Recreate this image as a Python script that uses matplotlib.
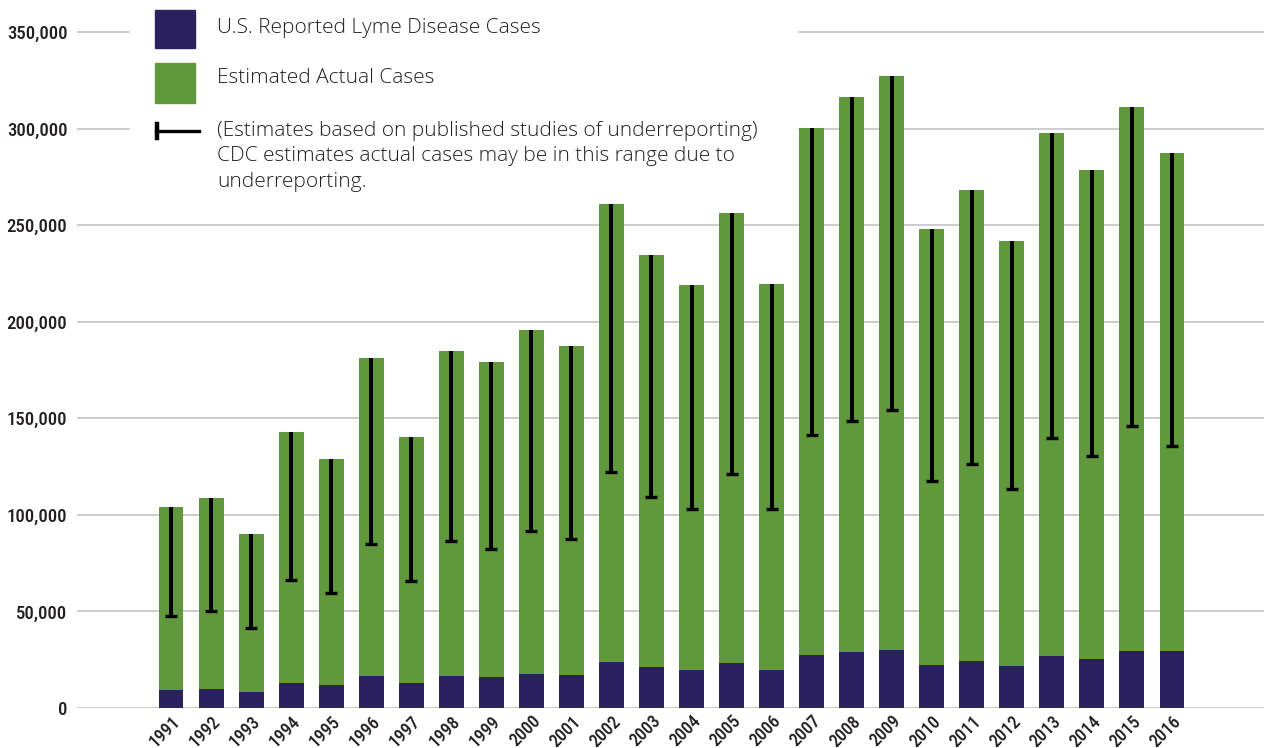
import matplotlib
matplotlib.use("Agg")
import matplotlib.pyplot as plt
from matplotlib.patches import Rectangle
from matplotlib.lines import Line2D
import numpy as np

# data
years = [str(y) for y in range(1991, 2017)]
reported = [9400, 9900, 8400, 13000, 11700, 16400, 12800, 16800, 16200, 17700,
            16900, 23600, 21200, 19800, 23300, 19900, 27400, 28900, 29900, 22500,
            24300, 21900, 27100, 25300, 29300, 29300]
estimated = [104100, 108900, 90200, 143000, 128800, 181400, 140200, 185000, 179300, 195500,
             187600, 261100, 234300, 219100, 256500, 219600, 300500, 316200, 327400, 248200,
             268100, 241700, 297700, 278300, 311300, 287400]
range_low = [47400, 50000, 41200, 66300, 59400, 84700, 66000, 86500, 82300, 91600,
             87600, 122200, 109500, 102800, 120900, 102800, 141300, 148500, 154100, 117300,
             126200, 113300, 139600, 130300, 145900, 135400]
yticks = [0, 50000, 100000, 150000, 200000, 250000, 300000, 350000]

navy = '#2b2160'
green = '#5f993b'
txt = '#231f20'
W, H = 1264, 748
narrow = ['Roboto Condensed', 'Liberation Sans Narrow', 'Roboto', 'DejaVu Sans']
body = ['Open Sans', 'DejaVu Sans']

fig = plt.figure(figsize=(W / 100, H / 100), dpi=100)
ax = fig.add_axes([77 / W, 40 / H, (W - 77) / W, 708 / H])

x = np.arange(len(years))
ax.bar(x, estimated, width=0.62, color=green, zorder=2)
ax.bar(x, reported, width=0.62, color=navy, zorder=3)

# error range: line from bar top down to the low estimate, cap at the bottom only
ax.vlines(x, range_low, estimated, color='black', lw=2.9, zorder=4)
ax.plot(x, range_low, ls='none', marker='_', ms=9, mew=2.4, color='black', zorder=4)

ax.set_xlim(-2.35, 27.3)
ax.set_ylim(0, 350000 * 708 / 676)
ax.set_yticks(yticks, labels=['{:,}'.format(v) for v in yticks])
ax.set_xticks(x, labels=years, rotation=45, ha='right', rotation_mode='anchor')
for lab in ax.get_yticklabels():
    lab.set_fontfamily(narrow)
    lab.set_fontsize(13.5)
    lab.set_fontweight('medium')
    lab.set_color(txt)
for lab in ax.get_xticklabels():
    lab.set_fontfamily(narrow)
    lab.set_fontsize(13)
    lab.set_fontweight('medium')
    lab.set_color(txt)
ax.tick_params(axis='both', length=0)
ax.tick_params(axis='y', pad=7)
ax.tick_params(axis='x', pad=3)
ax.yaxis.grid(True, color='#c8c8c8', lw=1.3, zorder=0)
ax.set_axisbelow(True)
for s in ax.spines.values():
    s.set_visible(False)


def fx(px):
    return px / W


def fy(py):
    return 1 - py / H


# legend block on a white panel over the top gridlines
fig.add_artist(Rectangle((fx(130), fy(192)), fx(797) - fx(130), fy(0) - fy(192),
                         transform=fig.transFigure, color='white', zorder=5))
fig.add_artist(Rectangle((fx(155), fy(48)), 40 / W, 38 / H,
                         transform=fig.transFigure, color=navy, zorder=6))
fig.add_artist(Rectangle((fx(155), fy(103)), 40 / W, 40 / H,
                         transform=fig.transFigure, color=green, zorder=6))
fig.add_artist(Line2D([fx(156), fx(199)], [fy(131), fy(131)], color='black', lw=2.4,
                      transform=fig.transFigure, zorder=6))
fig.add_artist(Line2D([fx(157), fx(157)], [fy(124), fy(138)], color='black', lw=3.2,
                      transform=fig.transFigure, zorder=6))

fig.text(fx(217), fy(28), 'U.S. Reported Lyme Disease Cases', va='center', ha='left',
         fontsize=15, family=body, weight='light', color=txt, zorder=7)
fig.text(fx(217), fy(78), 'Estimated Actual Cases', va='center', ha='left',
         fontsize=15, family=body, weight='light', color=txt, zorder=7)
note = ['(Estimates based on published studies of underreporting)',
        'CDC estimates actual cases may be in this range due to',
        'underreporting.']
for i, line in enumerate(note):
    fig.text(fx(217), fy(131 + 25.5 * i), line, va='center', ha='left',
             fontsize=15, family=body, weight='light', color=txt, zorder=7)

fig.savefig('out.png', dpi=100)
